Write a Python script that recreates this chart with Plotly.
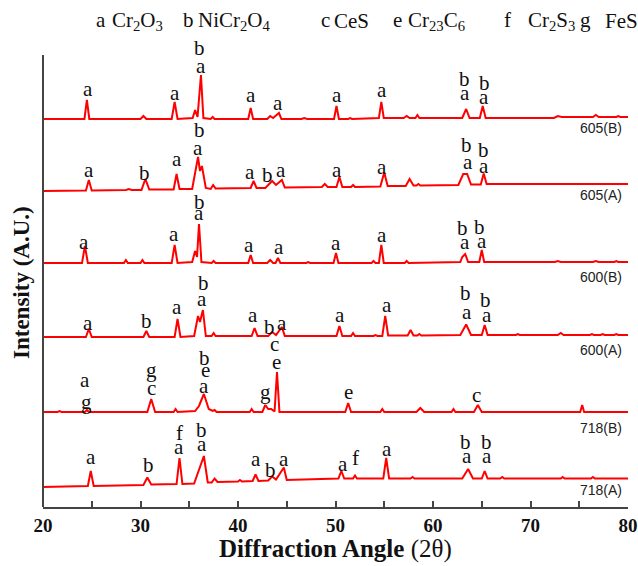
import plotly.graph_objects as go

# ---------------- data ----------------
# vertex lists of each pattern: 2theta and relative intensity (A.U.)
x_605B = [20, 24.25, 24.5, 24.75, 30.0, 30.3, 30.6, 33.2, 33.5, 33.8, 35.35, 35.6, 35.85, 36.2, 36.45,
          37.2, 37.4, 37.6, 41.05, 41.3, 41.55, 43.0, 43.3, 43.6, 44.2, 44.45, 46.5, 46.8, 47.1,
          49.85, 50.1, 50.35, 51.3, 51.5, 51.7, 54.45, 54.7, 54.95, 57.0, 57.3, 57.6, 58.2, 58.4, 58.6,
          63.0, 63.4, 63.75, 64.8, 65.1, 65.4, 72.4, 72.8, 73.2, 76.4, 76.7, 77.0, 78.8, 79.0, 79.2, 80]
y_605B = [0, 0, 19, 0, 0, 3, 0, 0, 17, 0, 1, 9, 2, 44, 1,
          0, 2, 0, 0, 11, 0, 0, 3, 1, 6, 0, 0, 1, 0,
          0, 13, 0, 0, 1, 0, 1, 17, 1, 1, 3, 1, 1, 4, 1,
          1, 10, 1, 1, 13, 1, 1, 3, 2, 2, 4, 2, 2, 3, 2, 2]

x_605A = [20, 24.4, 24.7, 25.0, 28.5, 28.8, 29.1, 30.1, 30.5, 30.9, 33.4, 33.7, 34.0, 35.3, 35.9, 36.1,
          36.3, 36.7, 37.2, 37.45, 37.7, 41.3, 41.6, 41.9, 42.8, 43.5, 43.9, 44.5, 44.8, 48.6, 48.9,
          49.2, 50.1, 50.4, 50.7, 51.6, 51.8, 52.0, 54.6, 55.0, 55.35, 57.2, 57.6, 58.0, 58.3, 58.5,
          58.7, 62.6, 63.1, 63.5, 63.9, 64.9, 65.2, 65.5, 80]
y_605A = [0, 0.5, 11, 0.5, 1, 2, 1, 1, 12, 1.5, 1.5, 17, 2, 2, 34, 20,
          25, 3, 2, 6, 2.5, 3, 10, 3, 3, 10, 6, 11, 3.5, 4, 7,
          4, 4, 14, 4, 4, 6, 4, 4.5, 18.5, 5, 5, 12, 5.5, 5.5, 7,
          5.5, 6, 17, 17, 6.5, 6.5, 17.5, 7, 7]

x_600B = [20, 24.0, 24.3, 24.6, 28.3, 28.5, 28.7, 30.0, 30.2, 30.4, 33.2, 33.5, 33.8, 35.3, 35.6, 35.8,
          36.0, 36.25, 37.3, 37.5, 37.7, 41.05, 41.3, 41.55, 43.0, 43.3, 43.6, 43.85, 44.1, 44.35,
          47.0, 47.2, 47.4, 49.8, 50.05, 50.3, 53.7, 53.9, 54.1, 54.45, 54.7, 54.95, 57.1, 57.3, 57.5,
          62.8, 63.0, 63.3, 63.6, 64.75, 65.0, 65.25, 72.5, 72.8, 73.1, 76.4, 76.7, 77.0, 78.6, 78.8,
          79.0, 80]
y_600B = [0, 0, 17, 0, 0, 3, 0, 0, 3, 0, 0, 18, 0, 1, 12, 6,
          39, 1, 0, 2, 0, 0, 8, 0, 0, 3, 0, 0, 5, 0,
          0, 1, 0, 0, 10, 0, 0, 2, 0, 0, 18, 0, 0, 2, 0,
          1, 6, 9, 1, 1, 13, 1, 1, 2, 1, 1, 2, 1, 1, 2,
          1, 1]

x_600A = [20, 24.4, 24.7, 25.0, 30.3, 30.6, 30.9, 33.5, 33.8, 34.1, 35.5, 35.9, 36.1, 36.4, 36.7, 37.3,
          37.5, 37.7, 41.4, 41.7, 42.0, 43.1, 43.5, 43.9, 44.5, 44.8, 50.1, 50.4, 50.7, 51.6, 51.8,
          52.0, 53.9, 54.1, 54.3, 54.8, 55.1, 55.4, 57.4, 57.7, 58.0, 58.4, 58.6, 58.8, 62.8, 63.4,
          63.9, 65.0, 65.3, 65.6, 68.5, 68.7, 68.9, 72.8, 73.1, 73.4, 76.1, 76.3, 76.5, 77.2, 77.4,
          77.6, 78.6, 78.8, 79.0, 80]
y_600A = [0, 0, 8, 0, 0, 6, 0, 0, 18, 0, 1, 21, 15, 27, 1, 1,
          4, 1, 1, 9, 1, 1, 5, 2, 10, 1, 1, 11, 1, 1, 4,
          1, 1, 2, 1, 1, 21, 1.5, 1.5, 7, 1.5, 1.5, 3, 1.5, 2, 12.5,
          2, 2, 12, 2, 2, 3, 2, 2, 4, 2, 2, 3, 2, 2, 3,
          2, 2, 3, 2, 2]

x_718B = [20, 21.5, 21.7, 21.9, 24.3, 24.5, 24.7, 30.7, 31.1, 31.5, 33.4, 33.6, 33.8, 35.6, 36.0, 36.5,
          37.0, 37.4, 37.6, 37.8, 41.2, 41.4, 41.6, 42.5, 42.8, 43.1, 43.4, 43.75, 44.0, 44.25,
          51.0, 51.3, 51.6, 54.6, 54.8, 55.0, 58.3, 58.7, 59.1, 61.9, 62.1, 62.3, 64.2, 64.6, 65.0,
          75.1, 75.3, 75.5, 80]
y_718B = [0, 0, 1, 0, 0, 2, 0, 0, 13, 0, 0, 3, 0, 1, 6, 18,
          3, 1, 2, 0, 0, 3, 0, 0, 7, 3, 3, 0.5, 40, 0,
          0, 9, 0, 0, 3, 0, 0, 4, 0, 0, 3, 0, 0, 7, 0,
          0, 7, 0, 0]

x_718A = [20, 24.6, 24.9, 25.2, 30.3, 30.7, 31.1, 33.7, 34.0, 34.3, 35.5, 36.1, 36.5, 36.9, 37.3, 37.6,
          37.9, 40.0, 40.2, 40.4, 41.5, 41.8, 42.1, 43.1, 43.5, 43.9, 44.7, 45.0, 50.3, 50.6, 50.9,
          51.8, 52.0, 52.2, 54.9, 55.2, 55.5, 57.7, 57.9, 58.1, 63.0, 63.6, 64.1, 65.0, 65.3, 65.6,
          66.9, 67.1, 67.3, 73.1, 73.3, 73.5, 76.2, 76.4, 76.6, 80]
y_718A = [0, 1, 16, 1, 2, 9.5, 2.5, 3, 29, 3, 3.5, 20, 31, 4.5, 4.5, 8.5,
          5, 5.5, 7, 5.5, 6, 12.5, 6, 6.5, 10.5, 7.5, 19.5, 7, 8.5, 16, 8.5,
          8.5, 11.5, 8.5, 8.5, 29, 8.5, 8.5, 10, 8.5, 8.5, 18, 8.5, 8.5, 16, 8.5,
          8.5, 10, 8.5, 8.5, 10, 8.5, 8.5, 10, 8.5, 8.5]

sample_names = ["605(B)", "605(A)", "600(B)", "600(A)", "718(B)", "718(A)"]
sample_offsets = [388, 316, 244, 170, 95, 20]
sample_label_y = [379, 312, 230, 157, 79, 17]

# phase markers on the peaks: letter, 2theta, intensity (A.U.)
mark_text = ["a", "a", "b", "a", "a", "a", "a", "a", "b", "a", "b", "a",
             "a", "b", "a", "b", "a", "a", "b", "a", "a", "a", "b", "a", "b", "a",
             "a", "a", "b", "a", "a", "a", "a", "a", "b", "a", "b", "a",
             "a", "b", "a", "b", "a", "a", "b", "a", "a", "a", "b", "a", "b", "a",
             "a", "g", "g", "c", "b", "e", "a", "g", "c", "e", "e", "c",
             "a", "b", "f", "a", "b", "a", "a", "b", "a", "a", "f", "a", "b", "a", "b", "a"]
mark_x = [24.58, 33.54, 36.03, 36.17, 41.33, 44.10, 50.12, 54.74, 63.21, 63.28, 65.26, 65.23,
          24.69, 30.46, 33.71, 36.03, 35.90, 41.23, 43.05, 44.44, 50.15, 54.74, 63.46, 63.56, 65.23, 65.23,
          24.24, 33.47, 36.03, 36.03, 41.13, 44.21, 50.05, 54.74, 63.05, 63.28, 64.82, 64.99,
          24.65, 30.64, 33.71, 36.44, 36.28, 41.57, 43.18, 44.48, 50.46, 55.25, 63.38, 63.46, 65.41, 65.51,
          24.31, 24.48, 31.15, 31.08, 36.54, 36.62, 36.51, 42.84, 43.79, 43.97, 51.31, 64.48,
          24.92, 30.80, 33.95, 33.98, 36.21, 36.28, 41.85, 43.38, 44.75, 50.80, 52.07, 55.25, 63.38, 63.46,
          65.51, 65.57]
mark_y = [418, 414, 459, 441, 412, 404, 412, 417, 428, 414, 424, 410,
          337, 334, 348, 377, 359, 335, 332, 337, 337, 340, 362, 345, 357, 341,
          265, 273, 305, 294, 262, 260, 264, 272, 279, 265, 280, 266,
          184, 186, 200, 224, 208, 192, 180, 184, 192, 202, 214, 195, 207, 192,
          127, 105, 137, 119, 149, 137, 121, 115, 163, 145, 115, 112,
          50, 42, 74, 60, 77, 63, 48, 37, 48, 43, 49, 58, 65, 51, 65, 51]

# key of the phase letters (letter and formula written as separate texts)
legend_letters = ["a", "b", "c", "e", "f", "g"]
legend_formulas = ["Cr<sub>2</sub>O<sub>3</sub>", "NiCr<sub>2</sub>O<sub>4</sub>", "CeS",
                   "Cr<sub>23</sub>C<sub>6</sub>", "Cr<sub>2</sub>S<sub>3</sub>", "FeS"]
legend_letter_px = [95, 182, 320, 392, 503, 579]
legend_formula_px = [111, 197, 333, 407, 527, 604]

x_ticks = [20, 30, 40, 50, 60, 70, 80]

# ---------------- figure ----------------
W, H = 638, 566
PLOT_LEFT, PLOT_BOTTOM = 43, 507
PW, PH = 585, 470
L = PLOT_LEFT
T = PLOT_BOTTOM - PH
R = W - L - PW
B = H - T - PH


def px2paper_x(px):
    return (px - PLOT_LEFT) / PW


def px2paper_y(py):
    return (PLOT_BOTTOM - py) / PH


series = [(x_605B, y_605B), (x_605A, y_605A), (x_600B, y_600B),
          (x_600A, y_600A), (x_718B, y_718B), (x_718A, y_718A)]

fig = go.Figure()
for (xs, ys), off, name in zip(series, sample_offsets, sample_names):
    fig.add_trace(go.Scatter(x=xs, y=[v + off for v in ys], mode="lines", name=name,
                             line=dict(color="#ff0000", width=2), showlegend=False,
                             hoverinfo="skip"))

serif = "Liberation Serif, Times New Roman, serif"
ann = []
for t, x, y in zip(mark_text, mark_x, mark_y):
    ann.append(dict(x=x, y=y, xref="x", yref="y", text=t, showarrow=False, borderpad=0,
                    font=dict(family=serif, size=21, color="#111"), xanchor="center", yanchor="middle"))
for name, ly in zip(sample_names, sample_label_y):
    ann.append(dict(x=79.6, y=ly, xref="x", yref="y", text=name, showarrow=False,
                    font=dict(family="Liberation Sans, Arial, sans-serif", size=14, color="#222"),
                    xanchor="right", yanchor="middle"))
for t, px in zip(legend_letters, legend_letter_px):
    ann.append(dict(x=px2paper_x(px), y=px2paper_y(20), xref="paper", yref="paper", text=t,
                    showarrow=False, borderpad=0, font=dict(family=serif, size=21, color="#111"),
                    xanchor="left", yanchor="middle"))
for t, px in zip(legend_formulas, legend_formula_px):
    ann.append(dict(x=px2paper_x(px), y=px2paper_y(21), xref="paper", yref="paper", text=t,
                    showarrow=False, borderpad=0, font=dict(family=serif, size=21, color="#111"),
                    xanchor="left", yanchor="middle"))
ann.append(dict(x=px2paper_x(21), y=px2paper_y(283), xref="paper", yref="paper",
                text="<b>Intensity (A.U.)</b>", textangle=-90, showarrow=False,
                font=dict(family=serif, size=23, color="#111"), xanchor="center", yanchor="middle"))
ann.append(dict(x=0.5, y=px2paper_y(549), xref="paper", yref="paper",
                text="<b>Diffraction Angle </b>(2θ)", showarrow=False,
                font=dict(family=serif, size=25, color="#111"), xanchor="center", yanchor="middle"))

fig.update_layout(
    width=W, height=H, margin=dict(l=L, r=R, t=T, b=B, pad=0, autoexpand=False),
    paper_bgcolor="white", plot_bgcolor="white",
    annotations=ann,
    shapes=[dict(type="line", xref="paper", yref="y", x0=0, x1=0, y0=0, y1=452,
                 line=dict(color="#444", width=2))],
    xaxis=dict(range=[20, 80], tickvals=x_ticks, ticktext=[f"<b>{v}</b>" for v in x_ticks],
               ticks="inside", ticklen=6, tickwidth=1.5, tickcolor="#444",
               minor=dict(dtick=5, ticks="inside", ticklen=6, tickwidth=1.5, tickcolor="#444"),
               showline=True, linecolor="#444", linewidth=2, showgrid=False, zeroline=False,
               automargin=False, tickfont=dict(family=serif, size=19, color="#111")),
    yaxis=dict(range=[0, PH], showticklabels=False, ticks="", showgrid=False, zeroline=False,
               showline=False, automargin=False),
)

# remove the default page margin so the figure fills the window exactly
fig.write_html("out.html", config={"displayModeBar": False},
               post_script="document.body.style.margin='0';document.body.style.overflow='hidden';")
